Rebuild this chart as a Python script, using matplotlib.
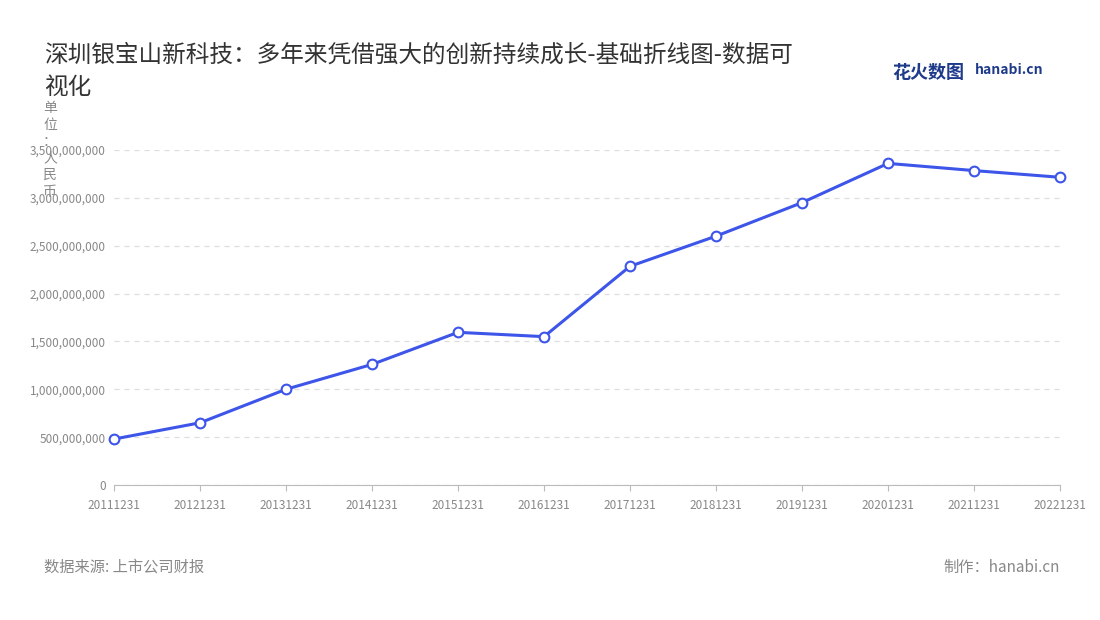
import matplotlib
matplotlib.use("Agg")
import matplotlib.pyplot as plt
from matplotlib.ticker import FuncFormatter

plt.rcParams['font.family'] = ['Noto Sans CJK SC', 'DejaVu Sans']

dates = ["20111231","20121231","20131231","20141231","20151231","20161231",
         "20171231","20181231","20191231","20201231","20211231","20221231"]
values = [480e6, 650e6, 1000e6, 1260e6, 1595e6, 1550e6,
          2285e6, 2600e6, 2950e6, 3360e6, 3285e6, 3215e6]

fig = plt.figure(figsize=(11, 6.2), dpi=100)
ax = fig.add_axes([114/1100, 135/620, 946/1100, 335/620])
x = list(range(len(dates)))
ax.plot(x, values, color='#3d55e8', lw=2.2, marker='o', ms=7,
        mfc='white', mec='#3d55e8', mew=1.5, zorder=3, clip_on=False)
ax.set_xlim(0, len(dates) - 1)
ax.set_ylim(0, 3.5e9)
ax.set_yticks([i * 5e8 for i in range(8)])
ax.yaxis.set_major_formatter(FuncFormatter(lambda v, p: f"{int(v):,}"))
ax.set_xticks(x)
ax.set_xticklabels(dates)
ax.tick_params(axis='both', labelsize=8.5, colors='#888888', length=0, pad=6)
ax.tick_params(axis='x', length=4, color='#bbbbbb')
ax.grid(axis='y', ls=(0, (4, 4)), color='#dddddd', lw=0.9)
for s in ['top', 'right', 'left']:
    ax.spines[s].set_visible(False)
ax.spines['bottom'].set_color('#bbbbbb')

fig.text(44/1100, 1 - 55/620, "深圳银宝山新科技：多年来凭借强大的创新持续成长-基础折线图-数据可",
         fontsize=17, color='#333333', va='center')
fig.text(44/1100, 1 - 87/620, "视化", fontsize=17, color='#333333', va='center')
fig.text(50/1100, 1 - 150/620, "单\n位\n：\n人\n民\n币", fontsize=10, color='#888888',
         ha='center', va='center', linespacing=1.25)
fig.text(44/1100, 1 - 567/620, "数据来源: 上市公司财报", fontsize=11, color='#888888', va='center')
fig.text(1060/1100, 1 - 567/620, "制作：hanabi.cn", fontsize=11, color='#888888', va='center', ha='right')
fig.text(892/1100, 1 - 72/620, "花火数图", fontsize=13, color='#1e3a8a', va='center', weight='bold')
fig.text(975/1100, 1 - 70/620, "hanabi.cn", fontsize=10, color='#1e3a8a', va='center', weight='bold')

fig.savefig("out.png", dpi=100, facecolor='white')
